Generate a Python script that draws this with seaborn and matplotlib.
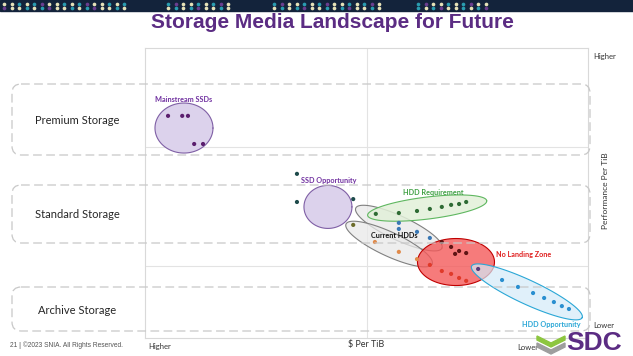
import numpy as np
import pandas as pd
import matplotlib
matplotlib.use("Agg")
import matplotlib.pyplot as plt
import seaborn as sns
from matplotlib.patches import FancyBboxPatch, Rectangle, Polygon

# -----------------------------------
# Data (x = cost score, 0 = higher $/TiB ... 100 = lower $/TiB,
#       y = performance score, 0 = lower ... 100 = higher)
# -----------------------------------
ssd_main_x = [5.2, 8.4, 9.7, 11.1, 13.1]
ssd_main_y = [76.6, 76.6, 76.6, 66.9, 66.9]

ssd_opp_x = [34.3, 34.3, 47.0]
ssd_opp_y = [56.6, 46.9, 47.9]

hdd_req_x = [52.1, 57.3, 61.4, 64.3, 67.0, 69.1, 70.9, 72.5]
hdd_req_y = [42.8, 43.1, 43.8, 44.5, 45.2, 45.9, 46.2, 46.9]

cur_blue_x = [57.3, 57.3, 61.4, 64.3]
cur_blue_y = [39.7, 37.6, 36.6, 34.5]
cur_orange_x = [51.9, 57.3, 61.4]
cur_orange_y = [33.1, 29.7, 27.2]
cur_olive_x = [47.0]
cur_olive_y = [39.0]

nlz_dark_x = [67.0, 69.1, 70.9, 72.5, 70.0]
nlz_dark_y = [33.1, 31.4, 30.0, 29.3, 29.0]
nlz_red_x = [64.3, 67.0, 69.1, 70.9, 72.5]
nlz_red_y = [25.2, 23.1, 22.1, 20.7, 19.7]
overlap_x = [75.2]
overlap_y = [23.8]

hdd_opp_x = [80.6, 84.2, 87.6, 90.1, 92.3, 94.1, 95.7]
hdd_opp_y = [20.0, 17.6, 15.5, 13.8, 12.4, 11.0, 10.0]

# region centres (score units)
region_names = ["Mainstream SSDs", "SSD Opportunity", "HDD Requirement",
                "Current HDDs A", "Current HDDs B", "No Landing Zone",
                "HDD Opportunity"]
region_cx = [8.8, 41.3, 63.7, 57.3, 55.1, 70.2, 86.2]
region_cy = [72.4, 45.2, 44.8, 37.9, 32.4, 26.2, 15.9]

tiers = ["Premium Storage", "Standard Storage", "Archive Storage"]

# -----------------------------------
# Points table
# -----------------------------------
series = [
    ("ssd_main", ssd_main_x, ssd_main_y),
    ("ssd_opp", ssd_opp_x, ssd_opp_y),
    ("hdd_req", hdd_req_x, hdd_req_y),
    ("cur_blue", cur_blue_x, cur_blue_y),
    ("cur_orange", cur_orange_x, cur_orange_y),
    ("cur_olive", cur_olive_x, cur_olive_y),
    ("nlz_dark", nlz_dark_x, nlz_dark_y),
    ("nlz_red", nlz_red_x, nlz_red_y),
    ("overlap", overlap_x, overlap_y),
    ("hdd_opp", hdd_opp_x, hdd_opp_y),
]
points = pd.concat(
    [pd.DataFrame({"cost": xs, "perf": ys, "group": name})
     for name, xs, ys in series],
    ignore_index=True
)

point_colors = {
    "ssd_main": "#5b1e6e",
    "ssd_opp": "#1e4b4b",
    "hdd_req": "#2e6b34",
    "cur_blue": "#3a78b5",
    "cur_orange": "#e08a4a",
    "cur_olive": "#6b6b2a",
    "nlz_dark": "#5e1414",
    "nlz_red": "#e03a2a",
    "overlap": "#5a3a7a",
    "hdd_opp": "#2a8fd0",
}

# region styles: width px, height px, angle, face, edge, alpha, zorder
region_style = {
    "Mainstream SSDs": (58, 50, 0, "#dcd2ec", "#7f5fa5", 1.0, 2),
    "SSD Opportunity": (48, 43, 0, "#dcd2ec", "#7f5fa5", 1.0, 2),
    "Current HDDs A": (95, 24, -25, "#e9e9e9", "#808080", 0.75, 2),
    "Current HDDs B": (95, 24, -25, "#e9e9e9", "#808080", 0.75, 2),
    "HDD Requirement": (120, 22, 7, "#e2f0d9", "#5fb760", 0.85, 3),
    "No Landing Zone": (77, 47, 0, "#f45a5a", "#c00000", 0.8, 3),
    "HDD Opportunity": (122, 24, -25, "#d3ebf8", "#2aa7d6", 0.7, 4),
}

# -----------------------------------
# Figure
# -----------------------------------
sns.set_theme(style="white")
plt.rcParams["font.family"] = ["Lato", "DejaVu Sans"]

W, H = 633, 356
fig = plt.figure(figsize=(W / 100, H / 100), dpi=100)
fig.patch.set_facecolor("white")

# main plot area (pixels 145..588 x 48..338)
L, R, T, B = 145, 588, 48, 338
ax = fig.add_axes([L / W, 1 - B / H, (R - L) / W, (B - T) / H])
ax.set_xlim(0, 100)
ax.set_ylim(0, 100)
ax.set_facecolor("none")
ax.set_xticks([])
ax.set_yticks([])
for s in ax.spines.values():
    s.set_color("#d9d9d9")
    s.set_linewidth(0.8)
ax.axvline(50, color="#e3e3e3", lw=0.8, zorder=0)
ax.axhline(66, color="#e3e3e3", lw=0.8, zorder=0)
ax.axhline(25, color="#e3e3e3", lw=0.8, zorder=0)

x_per_px = 100 / (R - L)
y_per_px = 100 / (B - T)


def draw_region(name, cx, cy):
    w, h, ang, fc, ec, alpha, z = region_style[name]
    t = np.linspace(0, 2 * np.pi, 120)
    a = np.deg2rad(ang)
    ux = w / 2 * np.cos(t)
    uy = h / 2 * np.sin(t)
    dx = ux * np.cos(a) - uy * np.sin(a)
    dy = ux * np.sin(a) + uy * np.cos(a)
    xs = cx + dx * x_per_px
    ys = cy + dy * y_per_px
    ax.fill(xs, ys, color=fc, alpha=alpha, lw=0, zorder=z)
    ax.plot(xs, ys, color=ec, lw=0.8, zorder=z)


for name, cx, cy in zip(region_names, region_cx, region_cy):
    draw_region(name, cx, cy)

sns.scatterplot(
    data=points, x="cost", y="perf", hue="group",
    palette=point_colors, s=9, linewidth=0,
    legend=False, ax=ax, zorder=6
)
ax.set_xlabel("")
ax.set_ylabel("")

# -----------------------------------
# Overlay in pixel coordinates
# -----------------------------------
ov = fig.add_axes([0, 0, 1, 1], zorder=5)
ov.set_xlim(0, W)
ov.set_ylim(H, 0)
ov.axis("off")
ov.patch.set_alpha(0)

# top banner
ov.add_patch(Rectangle((0, 0), W, 11, color="#13233b", zorder=1))
dot_cols = ["#e6e2b8", "#e6e2b8", "#2a9db0", "#e6e2b8", "#2a9db0", "#6a3d8f"]
clusters = [(4, 130), (168, 233), (274, 384), (418, 492)]
k = 0
for x0, x1 in clusters:
    for row_y in (3.5, 8):
        for dx in np.arange(x0, x1, 7.5):
            ov.scatter(dx, row_y, s=7, color=dot_cols[k % len(dot_cols)],
                       linewidth=0, zorder=2)
            k += 1

# title
ov.text(332, 22, "Storage Media Landscape for Future", ha="center",
        va="center", fontsize=15, fontweight="bold", color="#5b2c83",
        family="Liberation Sans")

# tier bands
bands = [(84, 155), (185, 243), (287, 331)]
for (y0, y1), label in zip(bands, tiers):
    ov.add_patch(FancyBboxPatch(
        (12, y0), 578, y1 - y0,
        boxstyle="round,pad=0,rounding_size=9",
        fc="none", ec="#c8c8c8", lw=0.9, ls=(0, (7, 3.5)), zorder=3
    ))
    ov.text(77, (y0 + y1) / 2 + 1, label, ha="center", va="center",
            fontsize=8, color="#262626")

# region labels
ov.text(155, 99, "Mainstream SSDs", fontsize=5.2, fontweight="bold",
        color="#7030a0", va="center")
ov.text(301, 180, "SSD Opportunity", fontsize=5.2, fontweight="bold",
        color="#7030a0", va="center")
ov.text(433, 193, "HDD Requirement", fontsize=5.2, fontweight="bold",
        color="#3fa043", va="center", ha="center")
ov.text(394, 236, "Current HDDs", fontsize=5.2, fontweight="bold",
        color="#111111", va="center", ha="center")
ov.text(496, 254, "No Landing Zone", fontsize=5.2, fontweight="bold",
        color="#e02020", va="center")
ov.text(551, 325, "HDD Opportunity", fontsize=5.2, fontweight="bold",
        color="#2aa7d6", va="center", ha="center")

# axis annotations
ov.text(148, 346, "Higher", fontsize=5.5, color="#333333", va="center")
ov.text(366, 345, "$ Per TiB", fontsize=6.5, color="#333333",
        va="center", ha="center")
ov.text(517, 347, "Lower", fontsize=5.5, color="#333333", va="center")
ov.text(593, 57, "Higher", fontsize=5.5, color="#333333", va="center")
ov.text(593, 325, "Lower", fontsize=5.5, color="#333333", va="center")
ov.text(605, 191, "Performance Per TiB", fontsize=6, color="#333333",
        va="center", ha="center", rotation=90)

# footer and logo
ov.text(10, 345, "21 | ©2023 SNIA. All Rights Reserved.", fontsize=4.8,
        color="#555555", va="center", family="Liberation Sans")
ov.add_patch(Polygon([(537, 336), (551, 343), (565, 336), (565, 340),
                      (551, 347), (537, 340)], color="#8dc63f", zorder=4))
ov.add_patch(Polygon([(537, 343), (551, 350), (565, 343), (565, 347),
                      (551, 354), (537, 347)], color="#9e9e9e", zorder=4))
ov.text(566, 343, "SDC", fontsize=19, fontweight="bold", color="#5b2c83",
        va="center", family="Liberation Sans", zorder=3)

fig.savefig("out.png", dpi=100)
